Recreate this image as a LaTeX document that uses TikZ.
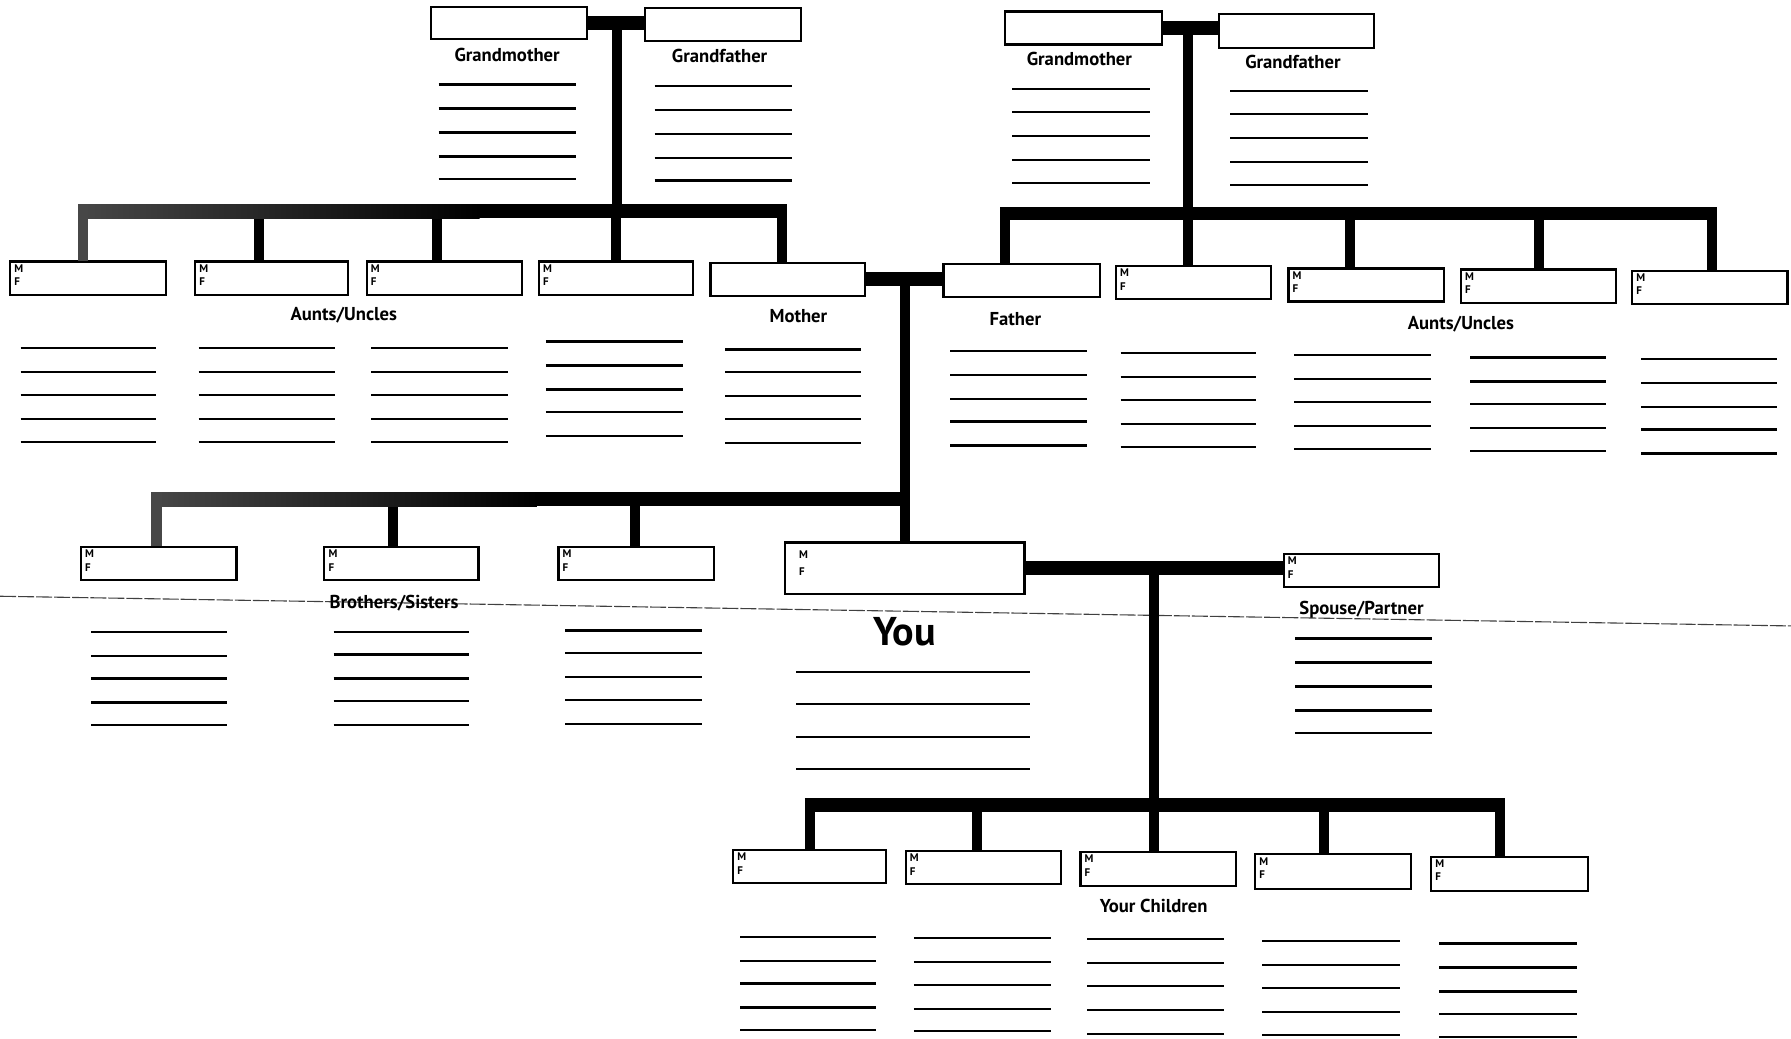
\documentclass[tikz,border=0pt]{standalone}
\usepackage{fontspec}
\setmainfont{PT Sans}
\newcommand\fambox[5]{%
  \node[fbox, minimum width={(#4-#2)*0.02cm}, minimum height={(#5-#3)*0.02cm}] (#1) at ({(#2+#4)/2},{(#3+#5)/2}) {};}
\newcommand\mflab[1]{%
  \node[mf, anchor=north west] (#1-mf) at ([xshift=2.4pt,yshift=-1.8pt]#1.north west) {M\\F};}
\newcommand\wlines[3]{\foreach \yy in {#3} {\draw[wline] (#1,\yy) -- (#2,\yy);}}
\begin{document}
\begin{tikzpicture}[x=0.02cm,y=-0.02cm,
  fbox/.style={draw=black, line width=1.1pt, fill=white, inner sep=0pt},
  hbar/.style={line width=6.8pt, black},
  vbar/.style={line width=5pt, black},
  wline/.style={line width=1.05pt},
  lbl/.style={font=\bfseries\fontsize{9.3}{10}\selectfont, inner sep=0pt},
  mf/.style={font=\bfseries\fontsize{5.5}{6.8}\selectfont, align=left, inner sep=0pt},
  foldline/.style={line width=0.55pt, black!75, dash pattern=on 8pt off 1pt},
]
\fill[white] (0,0) rectangle (1568,909);
\useasboundingbox (0,0) rectangle (1568,909);

% scan fold line
\draw[foldline] (0,522) -- (1568,548);

% ---------- junction coordinates ----------
\coordinate (jGL) at (540,21);
\coordinate (bL1) at (73,185);
\coordinate (bL2) at (227,185);
\coordinate (bL3) at (383,185);
\coordinate (bL4) at (539,185);
\coordinate (bL5) at (685,185);
\coordinate (jGR) at (1040,25);
\coordinate (bR1) at (880,187);
\coordinate (bR2) at (1040,187);
\coordinate (bR3) at (1182,187);
\coordinate (bR4) at (1347,187);
\coordinate (bR5) at (1499,187);
\coordinate (jMF) at (792,244);
\coordinate (bS1) at (137,437);
\coordinate (bS2) at (344,437);
\coordinate (bS3) at (556,437);
\coordinate (bS4) at (792,437);
\coordinate (jYS) at (1010,497);
\coordinate (bC1) at (709,705);
\coordinate (bC2) at (855,705);
\coordinate (bC3) at (1010,705);
\coordinate (bC4) at (1159,705);
\coordinate (bC5) at (1313,705);

% ---------- boxes ----------
\fambox{gmL}{377}{6}{514}{34}
\fambox{gfL}{565}{7}{701}{36}
\fambox{gmR}{880}{10}{1017}{39}
\fambox{gfR}{1067}{12}{1203}{42}
\fambox{a1}{9}{229}{145}{258}
\fambox{a2}{171}{229}{305}{258}
\fambox{a3}{321}{229}{457}{258}
\fambox{a4}{472}{229}{607}{258}
\fambox{mother}{622}{230}{757}{259}
\fambox{father}{826}{231}{963}{260}
\fambox{b2}{977}{233}{1113}{262}
\fambox{b3}{1128}{235}{1264}{264}
\fambox{b4}{1279}{236}{1415}{265}
\fambox{b5}{1429}{237}{1565}{266}
\fambox{s1}{71}{479}{207}{508}
\fambox{s2}{284}{479}{419}{508}
\fambox{s3}{489}{479}{625}{508}
\fambox{you}{687}{475}{897}{520}
\fambox{spouse}{1124}{485}{1260}{514}
\fambox{c1}{642}{744}{776}{773}
\fambox{c2}{793}{745}{929}{774}
\fambox{c3}{946}{746}{1082}{776}
\fambox{c4}{1099}{748}{1235}{778}
\fambox{c5}{1253}{750}{1390}{780}

\foreach \n in {a1,a2,a3,a4,b2,b3,b4,b5,s1,s2,s3,spouse,c1,c2,c3,c4,c5} {\mflab{\n}}
\node[mf, anchor=north west] (you-mf) at ([xshift=7.5pt,yshift=-4.6pt]you.north west) {M\\[1.6pt]F};

% ---------- connectors ----------
% left grandparents
\draw[hbar] (gmL.east) -- (gmL.east -| gfL.west);
\draw[vbar] (jGL) -- (jGL |- bL4);
\draw[hbar] ([xshift=-2.5pt]bL1) -- ([xshift=2.5pt]bL5);
\foreach \b/\n in {bL1/a1,bL2/a2,bL3/a3,bL4/a4,bL5/mother} {\draw[vbar] (\b) -- (\b |- \n.north);}
% right grandparents
\draw[hbar] (gmR.east) -- (gmR.east -| gfR.west);
\draw[vbar] (jGR) -- (jGR |- bR2);
\draw[hbar] ([xshift=-2.5pt]bR1) -- ([xshift=2.5pt]bR5);
\foreach \b/\n in {bR1/father,bR2/b2,bR3/b3,bR4/b4,bR5/b5} {\draw[vbar] (\b) -- (\b |- \n.north);}
% parents
\draw[hbar] (mother.east) -- (mother.east -| father.west);
\draw[vbar] (jMF) -- (jMF |- you.north);
% siblings
\draw[hbar] ([xshift=-2.5pt]bS1) -- ([xshift=2.5pt]bS4);
\foreach \b/\n in {bS1/s1,bS2/s2,bS3/s3} {\draw[vbar] (\b) -- (\b |- \n.north);}
% you and spouse
\draw[hbar] (you.east) -- (you.east -| spouse.west);
\draw[vbar] (jYS) -- (jYS |- bC3);
\draw[hbar] ([xshift=-2.5pt]bC1) -- ([xshift=2.5pt]bC5);
\foreach \b/\n in {bC1/c1,bC2/c2,bC3/c3,bC4/c4,bC5/c5} {\draw[vbar] (\b) -- (\b |- \n.north);}

% halftone grey on the left parts of two bars
\shade[left color=black!72, right color=black] (68.6,179) rectangle (420,191);
\fill[black!72] (68.6,179) rectangle (77.4,228.4);
\shade[left color=black!72, right color=black] (132.6,431) rectangle (470,443);
\fill[black!72] (132.6,431) rectangle (141.4,478.4);

% ---------- labels ----------
\node[lbl] (tGML) at (444,48) {Grandmother};
\node[lbl] (tGFL) at (630,49) {Grandfather};
\node[lbl] (tGMR) at (945,52) {Grandmother};
\node[lbl] (tGFR) at (1132,54) {Grandfather};
\node[lbl] (tAUL) at (301,276) {Aunts/Uncles};
\node[lbl] (tMo) at (699,277) {Mother};
\node[lbl] (tFa) at (889,279) {Father};
\node[lbl] (tAUR) at (1279,284) {Aunts/Uncles};
\node[lbl] (tBS) at (345,528) {Brothers/Sisters};
\node[lbl] (tSP) at (1192,534) {Spouse/Partner};
\node[lbl] (tYC) at (1010,793) {Your Children};
\node[inner sep=0pt, font=\bfseries\fontsize{20}{24}\selectfont] (tYou) at (792,553) {You};

% ---------- writing lines ----------
\wlines{384}{504}{74,95,116,137,157}
\wlines{573}{693}{75,96,117,138,158}
\wlines{886}{1007}{78,98,119,140,160}
\wlines{1077}{1198}{80,100,121,142,162}
\wlines{18}{137}{305,326,346,367,387}
\wlines{174}{293}{305,326,346,367,387}
\wlines{325}{445}{305,326,346,367,387}
\wlines{478}{598}{299,320,341,361,382}
\wlines{635}{754}{306,326,347,367,388}
\wlines{832}{952}{307,328,349,369,390}
\wlines{981}{1100}{309,330,350,371,391}
\wlines{1133}{1253}{311,332,352,373,393}
\wlines{1287}{1406}{313,334,354,375,395}
\wlines{1437}{1556}{314,335,356,376,397}
\wlines{80}{199}{553,574,594,615,635}
\wlines{292}{411}{553,573,594,614,635}
\wlines{495}{615}{552,572,593,613,634}
\wlines{697}{902}{588,616,645,673}
\wlines{1134}{1254}{559,580,601,622,642}
\wlines{648}{767}{820,841,861,882,902}
\wlines{800}{920}{821,842,862,883,903}
\wlines{952}{1072}{822,843,863,884,905}
\wlines{1105}{1226}{824,845,865,886,906}
\wlines{1260}{1381}{826,847,868,888,908}
\end{tikzpicture}
\end{document}
